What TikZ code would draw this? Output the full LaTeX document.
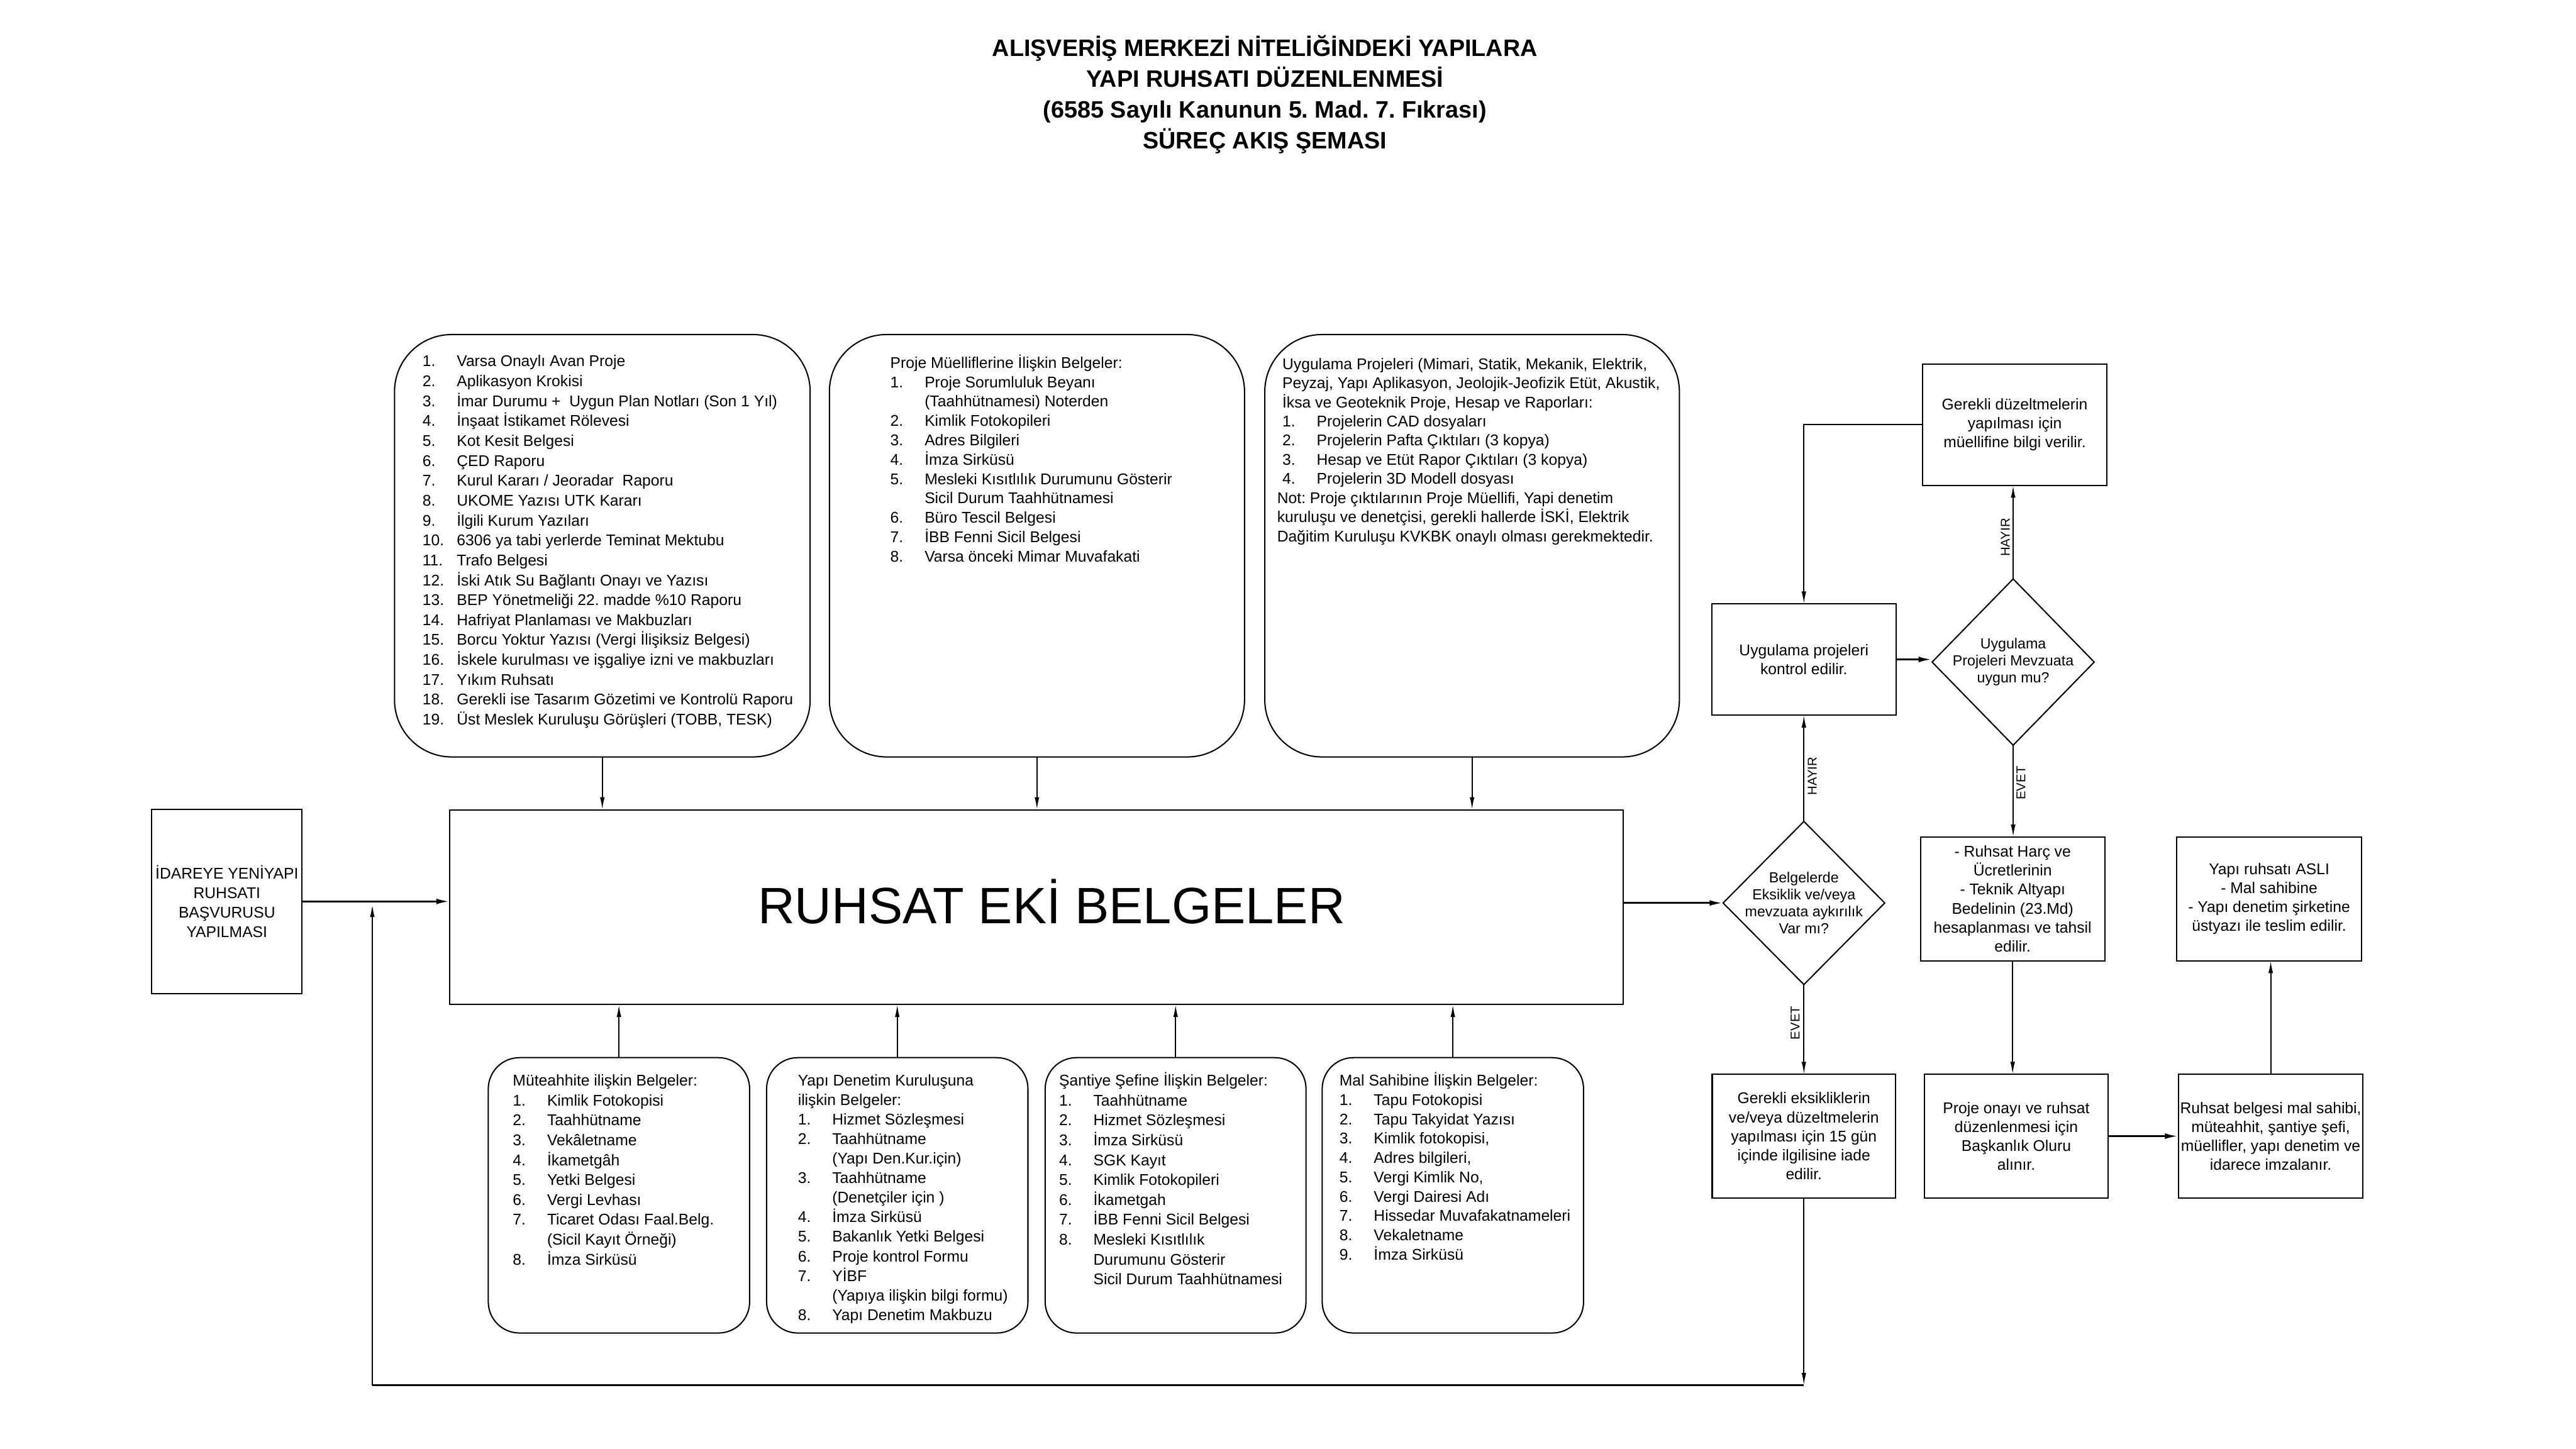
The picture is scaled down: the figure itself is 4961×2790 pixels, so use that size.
\documentclass[tikz,border=0pt]{standalone}
\usepackage{fontspec}
\setmainfont{Liberation Sans}
\usetikzlibrary{arrows.meta,shapes.geometric}
\frenchspacing
\newlength{\numw}
\setlength{\numw}{0.66cm}
\newcommand{\Li}[2]{\noindent\makebox[\numw][l]{#1}#2\par}
\newcommand{\Lc}[1]{\noindent\hspace*{\numw}#1\par}
\newcommand{\Lt}[1]{\noindent #1\par}
\newcommand{\listbox}[2]{\parbox[t]{9cm}{\raggedright\setlength{\parskip}{0pt}\setlength{\parindent}{0pt}\fontsize{8.5}{#1}\selectfont #2}}
\begin{document}
\begin{tikzpicture}[x=0.01cm,y=-0.01cm,
  box/.style={draw, line width=0.7pt, inner sep=0pt, outer sep=0pt},
  rbox/.style={box, rounded corners=1.1cm},
  sbox/.style={box, rounded corners=0.6cm},
  ctext/.style={align=center, font=\fontsize{8.5}{10.4}\selectfont},
  diam/.style={draw, line width=0.7pt, diamond, inner sep=0pt, outer sep=0pt},
  dtxt/.style={align=center, inner sep=0pt, font=\fontsize{8}{9.3}\selectfont},
  lbl/.style={inner sep=0pt, font=\fontsize{7}{8}\selectfont, rotate=90},
  ltxt/.style={anchor=base west, inner sep=0pt},
  con/.style={line width=0.7pt},
  arr/.style={con, -{Latex[length=2.4mm,width=0.9mm]}},
  harr/.style={line width=1.1pt, -{Latex[length=2.6mm,width=1.1mm]}}]
\useasboundingbox (0,0) rectangle (4961,2790);

% title
\node[anchor=base, inner sep=0pt] (title) at (2436,108) {\parbox[t]{16cm}{\centering\bfseries\fontsize{13}{16.9}\selectfont
ALIŞVERİŞ MERKEZİ NİTELİĞİNDEKİ YAPILARA\\
YAPI RUHSATI DÜZENLENMESİ\\
(6585 Sayılı Kanunun 5. Mad. 7. Fıkrası)\\
SÜREÇ AKIŞ ŞEMASI}};

% main boxes
\node[box, minimum width=2.89cm, minimum height=3.54cm, align=center, font=\fontsize{8.5}{10.7}\selectfont] (ida) at (437,1736) {İDAREYE YENİYAPI\\RUHSATI\\BAŞVURUSU\\YAPILMASI};
\node[box, minimum width=22.58cm, minimum height=3.75cm] (main) at (1996,1747) {};
\node[anchor=base, inner sep=0pt, font=\fontsize{28}{30}\selectfont] (maint) at (2025,1778) {RUHSAT EKİ BELGELER};

% top rounded boxes
\node[rbox, minimum width=8cm, minimum height=8.13cm] (A) at (1160,1051) {};
\node[rbox, minimum width=7.99cm, minimum height=8.13cm] (B) at (1997,1051) {};
\node[rbox, minimum width=7.98cm, minimum height=8.13cm] (C) at (2835,1051) {};

% bottom rounded boxes
\node[sbox, minimum width=5.03cm, minimum height=5.3cm] (D) at (1192,2302) {};
\node[sbox, minimum width=5.03cm, minimum height=5.3cm] (E) at (1728,2302) {};
\node[sbox, minimum width=5.02cm, minimum height=5.3cm] (F) at (2264,2302) {};
\node[sbox, minimum width=5.03cm, minimum height=5.3cm] (G) at (2798,2302) {};

% list texts
\node[ltxt] (At) at (813,706) {\listbox{10.9}{%
\Li{1.}{Varsa Onaylı Avan Proje}
\Li{2.}{Aplikasyon Krokisi}
\Li{3.}{İmar Durumu +\ \ Uygun Plan Notları (Son 1 Yıl)}
\Li{4.}{İnşaat İstikamet Rölevesi}
\Li{5.}{Kot Kesit Belgesi}
\Li{6.}{ÇED Raporu}
\Li{7.}{Kurul Kararı / Jeoradar\ \ Raporu}
\Li{8.}{UKOME Yazısı UTK Kararı}
\Li{9.}{İlgili Kurum Yazıları}
\Li{10.}{6306 ya tabi yerlerde Teminat Mektubu}
\Li{11.}{Trafo Belgesi}
\Li{12.}{İski Atık Su Bağlantı Onayı ve Yazısı}
\Li{13.}{BEP Yönetmeliği 22. madde \%10 Raporu}
\Li{14.}{Hafriyat Planlaması ve Makbuzları}
\Li{15.}{Borcu Yoktur Yazısı (Vergi İlişiksiz Belgesi)}
\Li{16.}{İskele kurulması ve işgaliye izni ve makbuzları}
\Li{17.}{Yıkım Ruhsatı}
\Li{18.}{Gerekli ise Tasarım Gözetimi ve Kontrolü Raporu}
\Li{19.}{Üst Meslek Kuruluşu Görüşleri (TOBB, TESK)}}};

\node[ltxt] (Bt) at (1714,709) {\listbox{10.6}{%
\Lt{Proje Müelliflerine İlişkin Belgeler:}
\Li{1.}{Proje Sorumluluk Beyanı}
\Lc{(Taahhütnamesi) Noterden}
\Li{2.}{Kimlik Fotokopileri}
\Li{3.}{Adres Bilgileri}
\Li{4.}{İmza Sirküsü}
\Li{5.}{Mesleki Kısıtlılık Durumunu Gösterir}
\Lc{Sicil Durum Taahhütnamesi}
\Li{6.}{Büro Tescil Belgesi}
\Li{7.}{İBB Fenni Sicil Belgesi}
\Li{8.}{Varsa önceki Mimar Muvafakati}}};

\node[ltxt] (Ct) at (2459,711) {\listbox{10.5}{%
\Lt{\hspace*{0.1cm}Uygulama Projeleri (Mimari, Statik, Mekanik, Elektrik,}
\Lt{\hspace*{0.1cm}Peyzaj, Yapı Aplikasyon, Jeolojik-Jeofizik Etüt, Akustik,}
\Lt{\hspace*{0.1cm}İksa ve Geoteknik Proje, Hesap ve Raporları:}
\Lt{\hspace*{0.1cm}\makebox[\numw][l]{1.}Projelerin CAD dosyaları}
\Lt{\hspace*{0.1cm}\makebox[\numw][l]{2.}Projelerin Pafta Çıktıları (3 kopya)}
\Lt{\hspace*{0.1cm}\makebox[\numw][l]{3.}Hesap ve Etüt Rapor Çıktıları (3 kopya)}
\Lt{\hspace*{0.1cm}\makebox[\numw][l]{4.}Projelerin 3D Modell dosyası}
\Lt{Not: Proje çıktılarının Proje Müellifi, Yapi denetim}
\Lt{kuruluşu ve denetçisi, gerekli hallerde İSKİ, Elektrik}
\Lt{Dağitim Kuruluşu KVKBK onaylı olması gerekmektedir.}}};

\node[ltxt] (Dt) at (987,2091) {\listbox{10.9}{%
\Lt{Müteahhite ilişkin Belgeler:}
\Li{1.}{Kimlik Fotokopisi}
\Li{2.}{Taahhütname}
\Li{3.}{Vekâletname}
\Li{4.}{İkametgâh}
\Li{5.}{Yetki Belgesi}
\Li{6.}{Vergi Levhası}
\Li{7.}{Ticaret Odası Faal.Belg.}
\Lc{(Sicil Kayıt Örneği)}
\Li{8.}{İmza Sirküsü}}};

\node[ltxt] (Et) at (1536,2091) {\listbox{10.7}{%
\Lt{Yapı Denetim Kuruluşuna}
\Lt{ilişkin Belgeler:}
\Li{1.}{Hizmet Sözleşmesi}
\Li{2.}{Taahhütname}
\Lc{(Yapı Den.Kur.için)}
\Li{3.}{Taahhütname}
\Lc{(Denetçiler için )}
\Li{4.}{İmza Sirküsü}
\Li{5.}{Bakanlık Yetki Belgesi}
\Li{6.}{Proje kontrol Formu}
\Li{7.}{YİBF}
\Lc{(Yapıya ilişkin bilgi formu)}
\Li{8.}{Yapı Denetim Makbuzu}}};

\node[ltxt] (Ft) at (2039,2091) {\listbox{10.9}{%
\Lt{Şantiye Şefine İlişkin Belgeler:}
\Li{1.}{Taahhütname}
\Li{2.}{Hizmet Sözleşmesi}
\Li{3.}{İmza Sirküsü}
\Li{4.}{SGK Kayıt}
\Li{5.}{Kimlik Fotokopileri}
\Li{6.}{İkametgah}
\Li{7.}{İBB Fenni Sicil Belgesi}
\Li{8.}{Mesleki Kısıtlılık}
\Lc{Durumunu Gösterir}
\Lc{Sicil Durum Taahhütnamesi}}};

\node[ltxt] (Gt) at (2579,2091) {\listbox{10.6}{%
\Lt{Mal Sahibine İlişkin Belgeler:}
\Li{1.}{Tapu Fotokopisi}
\Li{2.}{Tapu Takyidat Yazısı}
\Li{3.}{Kimlik fotokopisi,}
\Li{4.}{Adres bilgileri,}
\Li{5.}{Vergi Kimlik No,}
\Li{6.}{Vergi Dairesi Adı}
\Li{7.}{Hissedar Muvafakatnameleri}
\Li{8.}{Vekaletname}
\Li{9.}{İmza Sirküsü}}};

% right side
\node[box, minimum width=3.54cm, minimum height=2.33cm, ctext] (duz) at (3880,818) {Gerekli düzeltmelerin\\yapılması için\\müellifine bilgi verilir.};
\node[box, minimum width=3.54cm, minimum height=2.14cm, ctext] (uyg) at (3474,1270) {Uygulama projeleri\\kontrol edilir.};
\node[diam, minimum width=3.12cm, minimum height=3.2cm] (d2) at (3877,1275) {};
\node[dtxt] (d2t) at (d2.center) {Uygulama\\Projeleri Mevzuata\\uygun mu?};
\node[diam, minimum width=3.11cm, minimum height=3.14cm] (d1) at (3474,1739) {};
\node[dtxt] (d1t) at (d1.center) {Belgelerde\\Eksiklik ve/veya\\mevzuata aykırılık\\Var mı?};
\node[box, minimum width=3.55cm, minimum height=2.38cm, ctext] (harc) at (3876,1731) {- Ruhsat Harç ve\\Ücretlerinin\\- Teknik Altyapı\\Bedelinin (23.Md)\\hesaplanması ve tahsil\\edilir.};
\node[box, minimum width=3.55cm, minimum height=2.38cm, ctext] (asli) at (4370,1731) {Yapı ruhsatı ASLI\\- Mal sahibine\\- Yapı denetim şirketine\\üstyazı ile teslim edilir.};
\node[box, minimum width=3.53cm, minimum height=2.38cm, ctext] (eks) at (3474,2188) {Gerekli eksikliklerin\\ve/veya düzeltmelerin\\yapılması için 15 gün\\içinde ilgilisine iade\\edilir.};
\node[box, minimum width=3.54cm, minimum height=2.38cm, ctext] (onay) at (3883,2188) {Proje onayı ve ruhsat\\düzenlenmesi için\\Başkanlık Oluru\\alınır.};
\node[box, minimum width=3.55cm, minimum height=2.38cm, ctext] (belge) at (4373,2188) {Ruhsat belgesi mal sahibi,\\müteahhit, şantiye şefi,\\müellifler, yapı denetim ve\\idarece imzalanır.};

% labels
\node[lbl] (h2) at (3862,1035) {HAYIR};
\node[lbl] (e2) at (3892,1508) {EVET};
\node[lbl] (h1) at (3490,1495) {HAYIR};
\node[lbl] (e1) at (3457,1970) {EVET};

% connectors
\draw[arr] (A.south) -- (A.south |- main.north);
\draw[arr] (B.south) -- (B.south |- main.north);
\draw[arr] (C.south) -- (C.south |- main.north);
\draw[arr] (D.north) -- (D.north |- main.south);
\draw[arr] (E.north) -- (E.north |- main.south);
\draw[arr] (F.north) -- (F.north |- main.south);
\draw[arr] (G.north) -- (G.north |- main.south);
\draw[harr] (ida.east) -- (ida.east -| main.west);
\draw[harr] (main.east |- d1.west) -- (d1.west);
\draw[harr] (uyg.east) -- (uyg.east -| d2.west);
\draw[arr] (d2.north) -- (d2.north |- duz.south);
\draw[arr] (duz.west) -| (uyg.north);
\draw[arr] (d1.north) -- (uyg.south);
\draw[arr] (d1.south) -- (eks.north);
\draw[arr] (d2.south) -- (d2.south |- harc.north);
\draw[arr] (harc.south) -- (harc.south |- onay.north);
\draw[harr] (onay.east) -- (onay.east -| belge.west);
\draw[arr] (belge.north) -- (belge.north |- asli.south);
\coordinate (rb) at (3474,2668);
\coordinate (lb) at (717,2668);
\coordinate (lt) at (717,1742);
\draw[arr] (eks.south) -- (rb);
\draw[line width=1.1pt] (rb) -- (lb);
\draw[arr] (lb) -- (lt);
\end{tikzpicture}
\end{document}
